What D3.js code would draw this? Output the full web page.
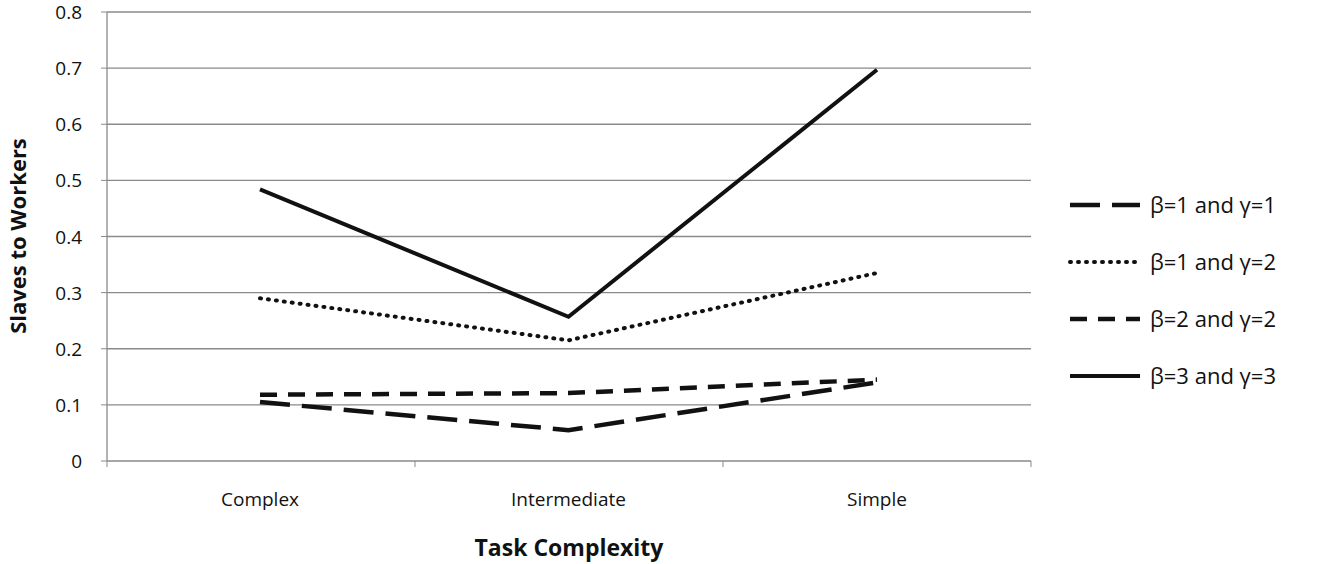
<!DOCTYPE html>
<html><head><meta charset="utf-8">
<script src="https://cdn.jsdelivr.net/npm/d3@7"></script>
<style>body{margin:0;background:#fff}text{font-family:"Open Sans",sans-serif;fill:#111}</style>
</head><body><svg width="1325" height="564"></svg>
<script>
const categories=["Complex","Intermediate","Simple"];
const seriesNames=["β=1 and γ=1","β=1 and γ=2","β=2 and γ=2","β=3 and γ=3"];
const s1=[0.105,0.055,0.14];
const s2=[0.29,0.215,0.335];
const s3=[0.118,0.121,0.145];
const s4=[0.484,0.257,0.697];
const yTicks=[0,0.1,0.2,0.3,0.4,0.5,0.6,0.7,0.8];
const data=[s1,s2,s3,s4];
const styles=[{dash:"30,12",w:4.5,cap:"butt"},{dash:"1,7",w:4,cap:"round"},{dash:"17,11",w:4.5,cap:"butt"},{dash:null,w:4,cap:"butt"}];
const svg=d3.select("svg");
const x=d3.scalePoint().domain(categories).range([260,877]).padding(0);
const y=d3.scaleLinear().domain([0,0.8]).range([461,12]);
const L=107,R=1031;
svg.selectAll(".g").data(yTicks.slice(1)).join("line").attr("x1",L).attr("x2",R).attr("y1",d=>y(d)).attr("y2",d=>y(d)).attr("stroke","#8a8a8a").attr("stroke-width",1.3);
svg.append("line").attr("x1",L).attr("x2",L).attr("y1",y(0.8)).attr("y2",y(0)).attr("stroke","#8a8a8a").attr("stroke-width",1.3);
svg.append("line").attr("x1",L).attr("x2",R).attr("y1",y(0)).attr("y2",y(0)).attr("stroke","#8a8a8a").attr("stroke-width",1.3);
svg.selectAll(".yt").data(yTicks).join("line").attr("x1",L-6).attr("x2",L).attr("y1",d=>y(d)).attr("y2",d=>y(d)).attr("stroke","#8a8a8a");
[L,(L+R)/2-(R-L)/6,(L+R)/2+(R-L)/6,R].forEach(v=>svg.append("line").attr("x1",v).attr("x2",v).attr("y1",y(0)).attr("y2",y(0)+6).attr("stroke","#8a8a8a"));
svg.selectAll(".yl").data(yTicks).join("text").attr("x",82).attr("y",d=>y(d)+7).attr("text-anchor","end").attr("font-size",19).text(d=>d===0?"0":d.toFixed(1));
svg.selectAll(".xl").data(categories).join("text").attr("x",d=>x(d)).attr("y",506).attr("text-anchor","middle").attr("font-size",19).text(d=>d);
svg.append("text").attr("transform","translate(26,236) rotate(-90)").attr("text-anchor","middle").attr("font-size",22).attr("font-weight","bold").text("Slaves to Workers");
svg.append("text").attr("x",569).attr("y",556).attr("text-anchor","middle").attr("font-size",23).attr("font-weight","bold").text("Task Complexity");
const line=d3.line().x((d,i)=>x(categories[i])).y(d=>y(d));
data.forEach((s,k)=>{const st=styles[k];
 svg.append("path").attr("d",line(s)).attr("fill","none").attr("stroke","#111").attr("stroke-width",st.w).attr("stroke-dasharray",st.dash).attr("stroke-linecap",st.cap);
 const ly=205+k*57;
 svg.append("line").attr("x1",1070).attr("x2",1140).attr("y1",ly).attr("y2",ly).attr("stroke","#111").attr("stroke-width",st.w).attr("stroke-dasharray",st.dash).attr("stroke-linecap",st.cap);
 svg.append("text").attr("x",1150).attr("y",ly+8).attr("font-size",22).text(seriesNames[k]);
});
</script></body></html>
